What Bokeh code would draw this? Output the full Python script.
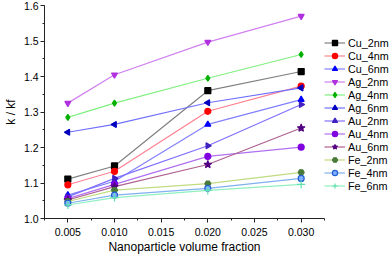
from bokeh.plotting import figure
from bokeh.models import Legend, LegendItem, SingleIntervalTicker, Range1d, NumeralTickFormatter
from bokeh.embed import file_html
from bokeh.resources import INLINE

fractions = [0.005, 0.010, 0.020, 0.030]
series_names = ["Cu_2nm", "Cu_4nm", "Cu_6nm", "Ag_2nm", "Ag_4nm", "Ag_6nm",
                "Au_2nm", "Au_4nm", "Au_6nm", "Fe_2nm", "Fe_4nm", "Fe_6nm"]
cu_2nm = [1.111, 1.148, 1.360, 1.414]
cu_4nm = [1.095, 1.133, 1.302, 1.373]
cu_6nm = [1.066, 1.105, 1.265, 1.335]
ag_2nm = [1.325, 1.405, 1.497, 1.570]
ag_4nm = [1.285, 1.325, 1.395, 1.462]
ag_6nm = [1.243, 1.265, 1.326, 1.368]
au_2nm = [1.061, 1.113, 1.205, 1.321]
au_4nm = [1.056, 1.096, 1.175, 1.201]
au_6nm = [1.052, 1.090, 1.152, 1.255]
fe_2nm = [1.048, 1.080, 1.098, 1.130]
fe_4nm = [1.043, 1.066, 1.085, 1.113]
fe_6nm = [1.038, 1.059, 1.079, 1.096]
values = [cu_2nm, cu_4nm, cu_6nm, ag_2nm, ag_4nm, ag_6nm,
          au_2nm, au_4nm, au_6nm, fe_2nm, fe_4nm, fe_6nm]

styles = [
    ("square", 0, "#000000", "#000000", "#808080"),
    ("circle", 0, "#ff0000", "#ff0000", "#ff8090"),
    ("triangle", 0, "#0000ff", "#0000ff", "#8080ff"),
    ("inverted_triangle", 0, "#b030e0", "#b030e0", "#d080f0"),
    ("diamond", 0, "#00b000", "#00b000", "#80f080"),
    ("triangle", 1.5708, "#0000c0", "#0000c0", "#7070ff"),
    ("triangle", -1.5708, "#4020c0", "#4020c0", "#8070ff"),
    ("circle", 0, "#8000e0", "#8000e0", "#b070f0"),
    ("star", 0, "#500080", "#500080", "#b06090"),
    ("hex", 0, "#4a7a3a", "#4a7a3a", "#c0dc80"),
    ("circle", 0, "#80b0ff", "#2060d0", "#80b0f0"),
    ("cross", 0, "#60e0b0", "#60e0b0", "#90f0c0"),
]

p = figure(frame_width=280, frame_height=213, output_backend="svg", toolbar_location=None,
           x_range=Range1d(0.0025, 0.0325), y_range=Range1d(1.0, 1.6),
           min_border_top=5, min_border_left=0, min_border_right=0, min_border_bottom=0)
p.outline_line_color = None
p.xgrid.visible = False
p.ygrid.visible = False
p.background_fill_color = "white"

items = []
for name, vals, (mk, ang, fill, edge, lc) in zip(series_names, values, styles):
    r1 = p.line(fractions, vals, line_color=lc, line_width=1.2)
    size = 8 if mk in ("star", "cross") else 6
    r2 = p.scatter(fractions, vals, marker=mk, angle=ang, size=size,
                   fill_color=fill, line_color=edge, line_width=1.2)
    items.append(LegendItem(label=name, renderers=[r1, r2]))

# blank spacer rows below the entries
blank = p.line([], [], line_alpha=0)
items.append(LegendItem(label=" ", renderers=[blank]))
items.append(LegendItem(label=" ", renderers=[blank]))

legend = Legend(items=items, location="bottom_left", orientation="vertical")
legend.border_line_color = None
legend.background_fill_alpha = 0
legend.padding = 0
legend.margin = 0
legend.spacing = 0
legend.glyph_width = 21
legend.glyph_height = 13
legend.label_height = 13
legend.label_standoff = 3
legend.label_text_font = "Liberation Sans"
legend.label_text_font_size = "10.8px"
legend.label_text_color = "#000000"
p.add_layout(legend, "right")

p.xaxis.ticker = SingleIntervalTicker(interval=0.005, num_minor_ticks=2)
p.yaxis.ticker = SingleIntervalTicker(interval=0.1, num_minor_ticks=2)
p.xaxis.formatter = NumeralTickFormatter(format="0.000")
p.yaxis.formatter = NumeralTickFormatter(format="0.0")

for ax in (p.xaxis, p.yaxis):
    ax.major_tick_in = 0
    ax.major_tick_out = 4
    ax.minor_tick_in = 0
    ax.minor_tick_out = 2
    ax.axis_line_color = "#222222"
    ax.major_tick_line_color = "#222222"
    ax.minor_tick_line_color = "#222222"
    ax.major_label_text_font = "Liberation Sans"
    ax.major_label_text_font_size = "10.5px"
    ax.major_label_text_color = "#000000"
    ax.axis_label_text_font = "Liberation Sans"
    ax.axis_label_text_font_size = "12px"
    ax.axis_label_text_font_style = "normal"
    ax.axis_label_text_color = "#000000"

p.xaxis.major_label_standoff = 5
p.xaxis.axis_label_standoff = 1
p.yaxis.major_label_standoff = 2
p.yaxis.axis_label_standoff = 3

p.xaxis.axis_label = "Nanoparticle volume fraction"
p.yaxis.axis_label = "k / kf"

open("out.html", "w").write(file_html(p, INLINE))
